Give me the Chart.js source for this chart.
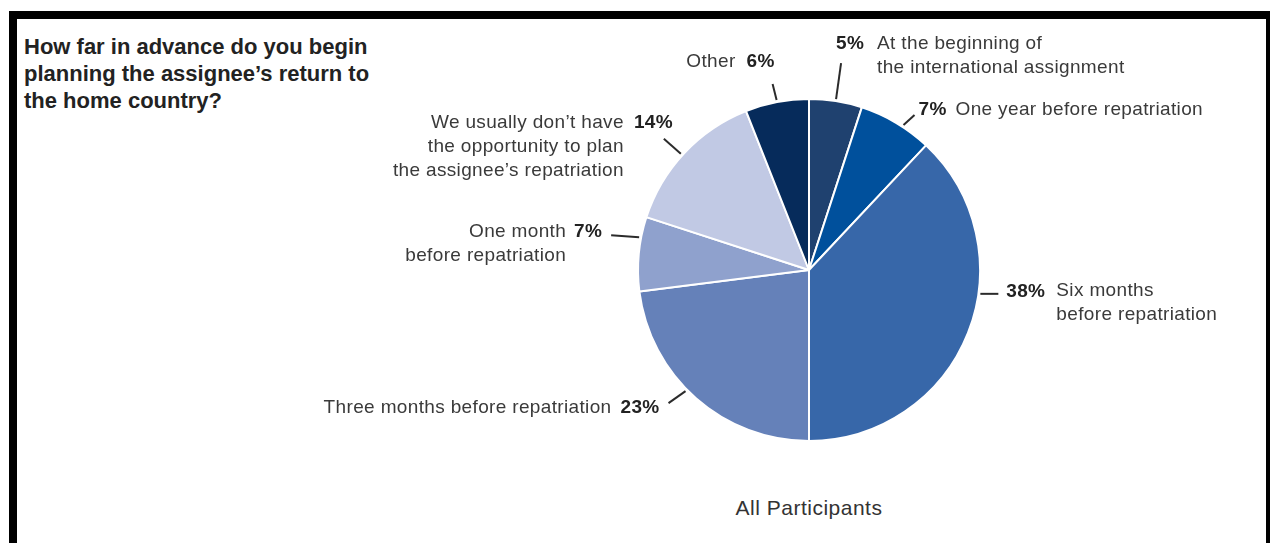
<!DOCTYPE html>
<html>
<head>
<meta charset="utf-8">
<script src="https://cdn.jsdelivr.net/npm/chart.js@4/dist/chart.umd.min.js"></script>
<style>
    html, body { margin: 0; padding: 0; background: #fff; overflow: hidden; }
    body { width: 1270px; height: 543px; position: relative; }
    #frame {
        position: absolute; left: 9px; top: 11px;
        width: 1249px; height: 600px;
        border: 8px solid #000; background: #fff;
    }
    #question {
        position: absolute; left: 24px; top: 33px;
        font: bold 22px "Liberation Sans", Arial, sans-serif;
        line-height: 27px; color: #222;
    }
    #caption {
        position: absolute; left: 0; width: 1618px; top: 496px;
        text-align: center; letter-spacing: 0.5px;
        font: 21px "Liberation Sans", Arial, sans-serif; color: #333;
    }
    #pie { position: absolute; left: 0; top: 0; }
</style>
</head>
<body>
<div id="frame"></div>
<div id="question">How far in advance do you begin<br>planning the assignee’s return to<br>the home country?</div>
<div id="caption">All Participants</div>
<canvas id="pie" width="1270" height="543"></canvas>
<script>
//slices, clockwise from 12 o'clock
var labels = [
    ['At the beginning of', 'the international assignment'],
    ['One year before repatriation'],
    ['Six months', 'before repatriation'],
    ['Three months before repatriation'],
    ['One month', 'before repatriation'],
    ['We usually don\u2019t have', 'the opportunity to plan', 'the assignee\u2019s repatriation'],
    ['Other']
];
var shares = [5, 7, 38, 23, 7, 14, 6];
var colors = ['#1f416f', '#00509c', '#3767a9', '#6581b9', '#8fa1cd', '#c1c9e4', '#062b5b'];

//callout placement: where the leader leaves the slice (0..1 across it),
//the leader's offset, then the percent and text positions from the leader's end
var callouts = [
    {at: 0.5,  dx: 5,   dy: -36, side: 'right', px: -5,  py: -19, tx: 36,  ty: -19},
    {at: 0.6,  dx: 11,  dy: -10, side: 'right', px: 4,   py: -5,  tx: 41,  ty: -5},
    {at: 0.4,  dx: 18,  dy: 0,   side: 'right', px: 8,   py: -2,  tx: 58,  ty: -3},
    {at: 0.55, dx: -17, dy: 12,  side: 'left',  px: -9,  py: 5,   tx: -57, ty: 5},
    {at: 0.72, dx: -28, dy: -2,  side: 'left',  px: -9,  py: -3,  tx: -45, ty: -3},
    {at: 0.48, dx: -17, dy: -15, side: 'left',  px: 9,   py: -16, tx: -40, ty: -16},
    {at: 0.5,  dx: -4,  dy: -16, side: 'left',  px: 2,   py: -22, tx: -37, ty: -22}
];

const calloutPlugin = {
    id: 'callouts',
    afterDatasetsDraw(chart) {
        const c = chart.ctx;
        const arcs = chart.getDatasetMeta(0).data;
        c.save();
        c.textBaseline = 'middle';
        arcs.forEach(function(arc, i) {
            const o = callouts[i];
            const a = arc.startAngle + o.at * (arc.endAngle - arc.startAngle);
            const r = arc.outerRadius + 2;
            const sx = arc.x + Math.cos(a) * r;
            const sy = arc.y + Math.sin(a) * r;
            const ex = sx + o.dx;
            const ey = sy + o.dy;
            c.strokeStyle = '#2b2b2b';
            c.lineWidth = 2;
            c.beginPath();
            c.moveTo(sx, sy);
            c.lineTo(ex, ey);
            c.stroke();

            const pct = shares[i] + '%';
            c.fillStyle = '#222';
            c.letterSpacing = '0.3px';
            c.font = 'bold 19px "Liberation Sans", Arial, sans-serif';
            c.textAlign = o.side == 'right' ? 'left' : 'right';
            c.fillText(pct, ex + o.px, ey + o.py);

            c.fillStyle = '#3a3a3a';
            c.letterSpacing = '0.35px';
            c.font = '19px "Liberation Sans", Arial, sans-serif';
            labels[i].forEach(function(line, k) {
                c.fillText(line, ex + o.tx, ey + o.ty + k * 24);
            });
        });
        c.restore();
    }
};

const ctx = document.getElementById('pie').getContext('2d');
const pie = new Chart(ctx, {
    type: 'pie',
    data: {
        labels: labels.map(function(l) { return l.join(' '); }),
        datasets: [{
            data: shares,
            backgroundColor: colors,
            borderColor: '#ffffff',
            borderWidth: 2,
        }]
    },
    options: {
        responsive: false,
        animation: false,
        layout: {
            padding: {left: 637, right: 289, top: 98, bottom: 101}
        },
        plugins: {
            legend: {display: false},
            tooltip: {enabled: false},
        },
    },
    plugins: [calloutPlugin]
});
</script>
</body>
</html>
